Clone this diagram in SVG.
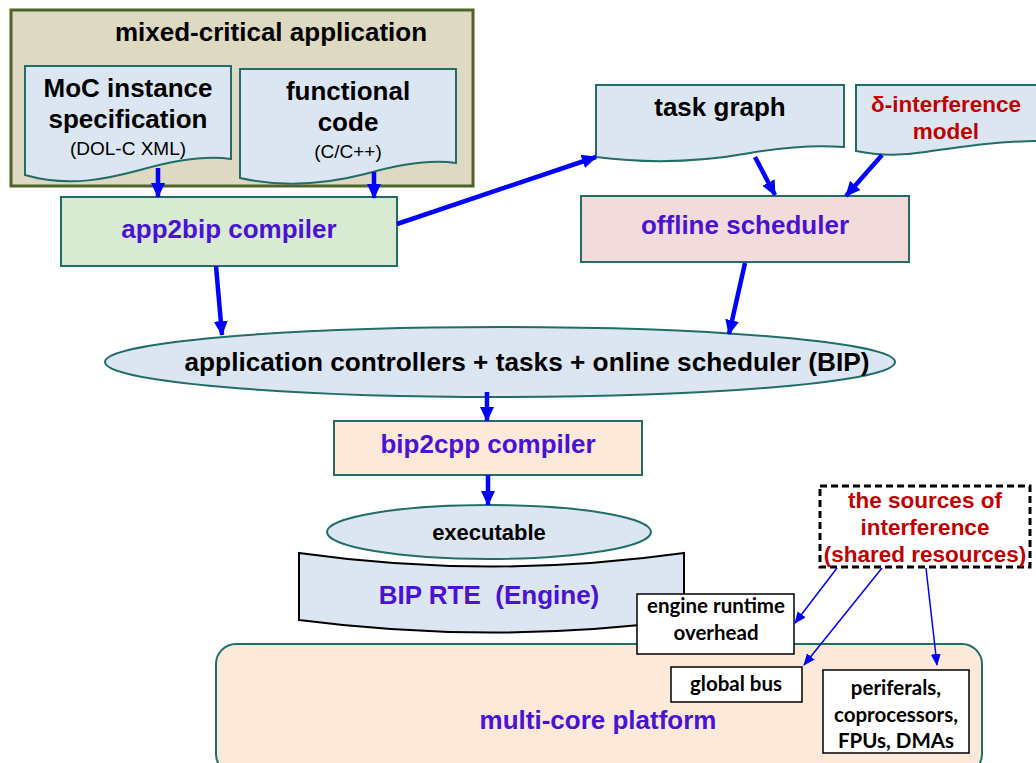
<svg xmlns="http://www.w3.org/2000/svg" width="1036" height="763" viewBox="0 0 1036 763">
<defs>
<marker id="ah" markerUnits="userSpaceOnUse" markerWidth="16" markerHeight="16" refX="14" refY="8" orient="auto"><path d="M0,1 L15,8 L0,15 Z" fill="#0000ff"/></marker>
<marker id="ahs" markerUnits="userSpaceOnUse" markerWidth="12" markerHeight="10" refX="11" refY="5" orient="auto"><path d="M0,0 L12,5 L0,10 Z" fill="#0000ff"/></marker>
</defs>
<style>
.t{font-family:"Liberation Sans",Arial,sans-serif;font-weight:bold;text-anchor:middle}
.n{font-weight:normal}
.c{font-family:Lato,"Open Sans",sans-serif;font-weight:bold;text-anchor:middle;font-size:20.5px;fill:#000}
.p{fill:#4a12d4}
.r{fill:#c00000}
.doc{fill:#dce6f2;stroke:#226d66;stroke-width:2}
.box{stroke:#226d66;stroke-width:2}
.wb{fill:#fff;stroke:#000;stroke-width:1.5}
.big{stroke:#0000ff;stroke-width:4.5;fill:none;marker-end:url(#ah)}
.thin{stroke:#0000ff;stroke-width:1.5;fill:none;marker-end:url(#ahs)}
</style>
<rect width="1036" height="763" fill="#fff"/>

<g id="mixed-critical">
<rect x="11" y="10" width="462" height="176" fill="#ddd9c3" stroke="#4f6228" stroke-width="3"/>
<text class="t" x="271" y="41" font-size="26">mixed-critical application</text>
</g>
<g id="moc">
<path class="doc" d="M25,66 H231 V159 C205,155 175,160 140,170 C110,178 70,188 25,175 Z"/>
<text class="t" x="128" y="97" font-size="26">MoC instance</text>
<text class="t" x="128" y="128" font-size="26">specification</text>
<text class="t n" x="128" y="155" font-size="19">(DOL-C XML)</text>
</g>
<g id="functional">
<path class="doc" d="M240,69 H456 V163 C430,159 400,164 365,174 C330,183 285,188 240,178 Z"/>
<text class="t" x="348" y="100" font-size="26">functional</text>
<text class="t" x="348" y="131" font-size="26">code</text>
<text class="t n" x="348" y="158" font-size="19">(C/C++)</text>
</g>
<g id="app2bip">
<rect class="box" x="61" y="197" width="336" height="69" fill="#d9ead3"/>
<text class="t p" x="229" y="238" font-size="26">app2bip compiler</text>
</g>
<g id="taskgraph">
<path class="doc" d="M596,85 H844 V147 C815,145 785,147 750,153 C700,162 650,164 596,157 Z"/>
<text class="t" x="720" y="116" font-size="26">task graph</text>
</g>
<g id="delta">
<path class="doc" d="M856,85 H1040 V141 C1000,141 960,147 925,152 C900,156 875,155 856,151 Z"/>
<text class="t r" x="946" y="112" font-size="22.5">δ-interference</text>
<text class="t r" x="946" y="139" font-size="22.5">model</text>
</g>
<g id="offline">
<rect class="box" x="581" y="196" width="328" height="66" fill="#f2dcdb"/>
<text class="t p" x="745" y="234" font-size="26">offline scheduler</text>
</g>
<g id="bipmodel">
<ellipse cx="500" cy="362" rx="395" ry="35" fill="#dce6f2" stroke="#226d66" stroke-width="2"/>
<text class="t" x="527" y="371" font-size="25" textLength="685" lengthAdjust="spacingAndGlyphs">application controllers + tasks + online scheduler (BIP)</text>
</g>
<g id="bip2cpp">
<rect class="box" x="334" y="421" width="308" height="54" fill="#fde9d9"/>
<text class="t p" x="488" y="453" font-size="26" textLength="215" lengthAdjust="spacingAndGlyphs">bip2cpp compiler</text>
</g>
<g id="executable">
<ellipse cx="489" cy="532" rx="162" ry="27" fill="#dce6f2" stroke="#226d66" stroke-width="2"/>
<text class="t" x="489" y="540" font-size="22">executable</text>
</g>
<g id="platform">
<rect x="216" y="644" width="766" height="130" rx="20" ry="20" fill="#fde9d9" stroke="#1f6f66" stroke-width="2"/>
<text class="t p" x="598" y="729" font-size="26">multi-core platform</text>
</g>
<g id="rte">
<path d="M299,553 Q491,580 684,553 V620 Q491,645 299,620 Z" fill="#dce6f2" stroke="#000" stroke-width="2"/>
<text class="t p" x="489" y="604" font-size="26" xml:space="preserve">BIP RTE  (Engine)</text>
</g>
<g id="overhead">
<rect class="wb" x="637" y="594" width="157" height="60"/>
<text class="c" x="716" y="613">engine runtime</text>
<text class="c" x="716" y="640">overhead</text>
</g>
<g id="bus">
<rect class="wb" x="671" y="667" width="131" height="35"/>
<text class="c" x="736" y="691">global bus</text>
</g>
<g id="periph">
<rect class="wb" x="823" y="670" width="146" height="83"/>
<text class="c" x="896" y="695">periferals,</text>
<text class="c" x="896" y="722">coprocessors,</text>
<text class="c" x="896" y="748">FPUs, DMAs</text>
</g>
<g id="sources">
<rect x="820" y="486" width="210" height="81" fill="#fff" stroke="#000" stroke-width="3" stroke-dasharray="7,4"/>
<text class="t r" x="925" y="508" font-size="22.5">the sources of</text>
<text class="t r" x="925" y="535" font-size="22.5">interference</text>
<text class="t r" x="925" y="562" font-size="22.5">(shared resources)</text>
</g>
<g id="connectors">
<line class="big" x1="158" y1="168" x2="158" y2="197"/>
<line class="big" x1="374" y1="172" x2="374" y2="198"/>
<line class="big" x1="397" y1="224" x2="596" y2="157"/>
<line class="big" x1="755" y1="157" x2="775" y2="195"/>
<line class="big" x1="882" y1="155" x2="846" y2="196"/>
<line class="big" x1="216" y1="266" x2="222" y2="335"/>
<line class="big" x1="745" y1="263" x2="729" y2="334"/>
<line class="big" x1="487" y1="392" x2="487" y2="421"/>
<line class="big" x1="488" y1="475" x2="488" y2="505"/>
<line class="thin" x1="837" y1="568" x2="795" y2="623"/>
<line class="thin" x1="882" y1="568" x2="804" y2="665"/>
<line class="thin" x1="926" y1="568" x2="937" y2="665"/>
</g>
</svg>
